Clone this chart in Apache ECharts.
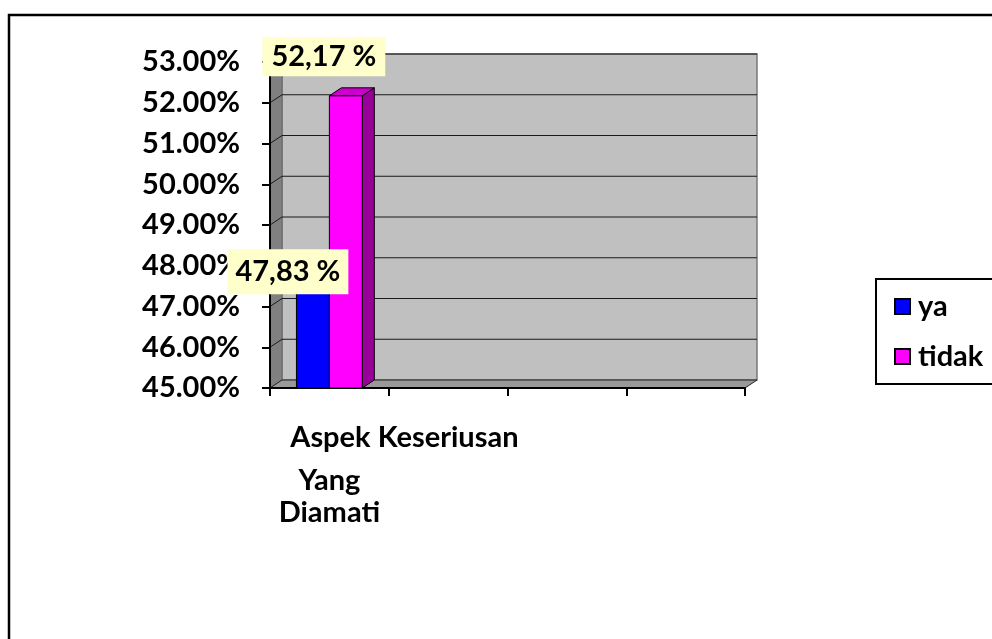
<!DOCTYPE html>
<html>
<head>
<meta charset="utf-8">
<script src="https://cdn.jsdelivr.net/npm/echarts@6/dist/echarts.min.js"></script>
<style>
html,body{margin:0;padding:0;background:#fff;}
#chart{width:992px;height:639px;}
</style>
</head>
<body>
<div id="chart"></div>
<script>
// ---- data ----
const categories = ['Aspek Keseriusan Yang Diamati', '', '', ''];
const seriesNames = ['ya', 'tidak'];
const yaValues = [47.83];
const tidakValues = [52.17];
const yTicks = [45, 46, 47, 48, 49, 50, 51, 52, 53];

// ---- style ----
const FONT = 'Lato';
const FS = 29;
const DX = 12, DY = -8;
const BAR_FRAC = 33 / 119;
const yMin = yTicks[0], yMax = yTicks[yTicks.length - 1];

function renderFrame(params, api) {
  const band = api.size([1, 0])[0];
  const x0 = api.coord([0, yMin])[0] - band / 2;
  const x1 = api.coord([categories.length - 1, yMin])[0] + band / 2;
  const yB = api.coord([0, yMin])[1];
  const yT = api.coord([0, yMax])[1];
  const children = [];
  children.push({ type: 'rect', shape: { x: x0 + DX, y: yT + DY, width: x1 - x0, height: yB - yT },
    style: { fill: '#C0C0C0', stroke: '#7a7a7a', lineWidth: 1.5 } });
  children.push({ type: 'polygon', shape: { points: [[x0, yT], [x0 + DX, yT + DY], [x0 + DX, yB + DY], [x0, yB]] },
    style: { fill: '#808080', stroke: '#666', lineWidth: 1 } });
  children.push({ type: 'polygon', shape: { points: [[x0, yB], [x1, yB], [x1 + DX, yB + DY], [x0 + DX, yB + DY]] },
    style: { fill: '#999999', stroke: '#222', lineWidth: 1 } });
  yTicks.forEach(function (t) {
    if (t === yMin) return;
    const y = api.coord([0, t])[1];
    children.push({ type: 'polyline', shape: { points: [[x0, y], [x0 + DX, y + DY], [x1 + DX, y + DY]] },
      style: { stroke: '#1a1a1a', lineWidth: 1, fill: null } });
  });
  return { type: 'group', children: children };
}

function makeBarRender(sIdx, colors, labelOffset) {
  return function (params, api) {
    const idx = api.value(0);
    const val = api.value(1);
    const band = api.size([1, 0])[0];
    const p = api.coord([idx, val]);
    const yBase = api.coord([idx, yMin])[1];
    const bw = band * BAR_FRAC;
    const left = p[0] - bw + sIdx * bw;
    const yTop = p[1];
    const st = { stroke: '#000', lineWidth: 1 };
    return {
      type: 'group',
      children: [
        { type: 'polygon', shape: { points: [[left + bw, yTop], [left + bw + DX, yTop + DY], [left + bw + DX, yBase + DY], [left + bw, yBase]] },
          style: Object.assign({ fill: colors.side }, st) },
        { type: 'polygon', shape: { points: [[left, yTop], [left + bw, yTop], [left + bw + DX, yTop + DY], [left + DX, yTop + DY]] },
          style: Object.assign({ fill: colors.top }, st) },
        { type: 'rect', shape: { x: left, y: yTop, width: bw, height: yBase - yTop },
          style: Object.assign({ fill: colors.front }, st) },
        { type: 'text', z2: 100, x: left + bw / 2 + labelOffset[0], y: yTop + labelOffset[1],
          style: { text: val.toFixed(2).replace('.', ',') + ' %', fill: '#000', fontSize: FS, fontWeight: 'bold',
            fontFamily: FONT, align: 'center', verticalAlign: 'middle', backgroundColor: '#FFFFCC', padding: labelOffset[2] } }
      ]
    };
  };
}

const chart = echarts.init(document.getElementById('chart'));
chart.setOption({
  animation: false,
  backgroundColor: '#fff',
  textStyle: { fontFamily: FONT, fontWeight: 'bold', color: '#000' },
  graphic: [
    { type: 'rect', shape: { x: 9, y: 15, width: 1000, height: 640 },
      style: { fill: null, stroke: '#000', lineWidth: 2.5 }, z: -10, silent: true }
  ],
  grid: { left: 270, right: 247, top: 62, bottom: 251 },
  legend: {
    orient: 'vertical', left: 876, top: 279,
    data: seriesNames,
    icon: 'rect', itemWidth: 15, itemHeight: 15, itemGap: 21,
    borderColor: '#000', borderWidth: 2, padding: [13, 40, 13, 18],
    itemStyle: { borderColor: '#000', borderWidth: 2 },
    textStyle: { fontFamily: FONT, fontWeight: 'bold', fontSize: FS, lineHeight: FS, color: '#000', padding: [0, 0, 0, 3] }
  },
  xAxis: {
    type: 'category', data: categories, z: 10,
    axisLine: { lineStyle: { color: '#000', width: 2 } },
    axisTick: { show: true, interval: 0, length: 8, lineStyle: { color: '#000', width: 2 } },
    axisLabel: {
      interval: 0, margin: 26,
      formatter: function (v, i) { return i === 0 ? '{a|Aspek Keseriusan}\n{b|Yang}\n{c|Diamati}' : ''; },
      rich: {
        a: { fontFamily: FONT, fontWeight: 'bold', fontSize: FS, lineHeight: 48, padding: [0, 0, 0, 150], color: '#000' },
        b: { fontFamily: FONT, fontWeight: 'bold', fontSize: FS, lineHeight: 38, color: '#000' },
        c: { fontFamily: FONT, fontWeight: 'bold', fontSize: FS, lineHeight: 26, color: '#000' }
      }
    },
    splitLine: { show: false }
  },
  yAxis: {
    type: 'value', min: yMin, max: yMax, interval: 1, z: 10,
    axisLine: { show: true, lineStyle: { color: '#000', width: 2 } },
    axisTick: { show: true, length: 8, lineStyle: { color: '#000', width: 2 } },
    axisLabel: { margin: 30, fontFamily: FONT, fontWeight: 'bold', fontSize: FS, color: '#000',
      formatter: function (v) { return v.toFixed(2) + '%'; } },
    splitLine: { show: false }
  },
  series: [
    { type: 'custom', name: '_frame', silent: true, z: 1, renderItem: renderFrame, data: [[0, yMin]], clip: false },
    { type: 'custom', name: seriesNames[0], z: 11, itemStyle: { color: '#0000FF' },
      renderItem: makeBarRender(0, { front: '#0000FF', top: '#0000CC', side: '#000099' }, [-25, -1, [8, 8, 8, 8]]),
      data: yaValues.map(function (v, i) { return [i, v]; }), clip: false },
    { type: 'custom', name: seriesNames[1], z: 11, itemStyle: { color: '#FF00FF' },
      renderItem: makeBarRender(1, { front: '#FF00FF', top: '#CC00CC', side: '#990099' }, [-22, -39, [5, 9, 5, 9]]),
      data: tidakValues.map(function (v, i) { return [i, v]; }), clip: false }
  ]
});
</script>
</body>
</html>
